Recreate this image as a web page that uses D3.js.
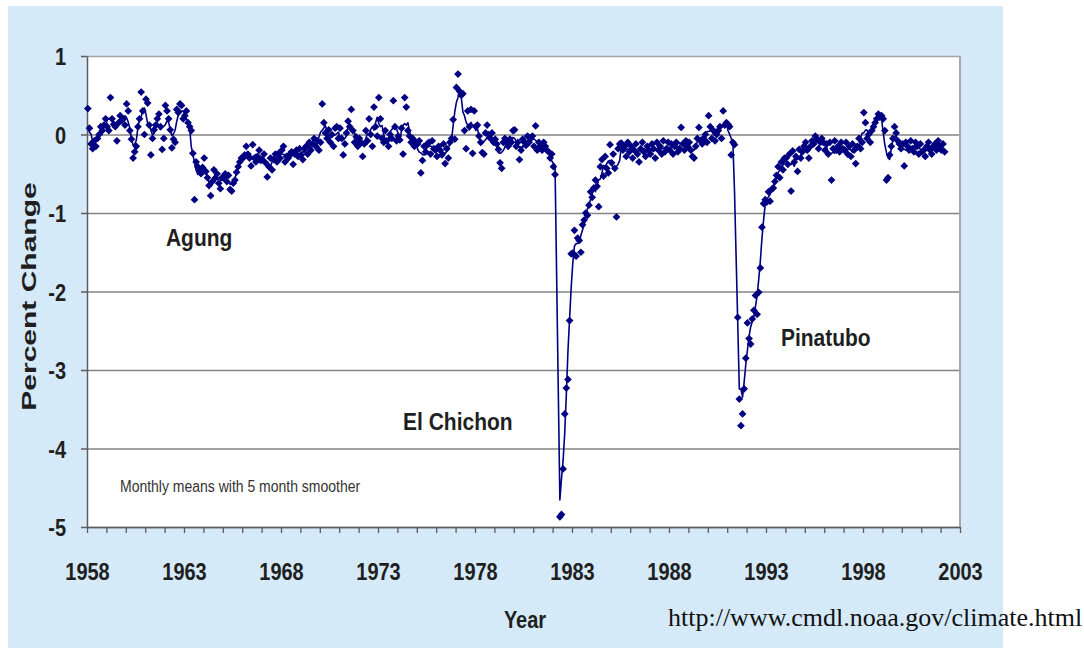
<!DOCTYPE html>
<html>
<head>
<meta charset="utf-8">
<script src="https://cdn.jsdelivr.net/npm/d3@7"></script>
<style>
  html, body { margin: 0; padding: 0; background: #ffffff; }
  svg { display: block; }
</style>
</head>
<body>
<svg id="chart" width="1084" height="648"></svg>
<script>
// Monthly means of atmospheric transmission (percent change), one row per year from Jan 1958.
const startYear = 1958;
const monthlyMeans = [
  /*1958*/ 0.33, 0.08, -0.12, -0.18, -0.08, -0.15, -0.05, 0.0, 0.1, 0.05, 0.12, 0.2,
  /*1959*/ 0.1, 0.05, 0.47, 0.2, 0.13, 0.1, -0.08, 0.15, 0.24, 0.18, 0.2, 0.12,
  /*1960*/ 0.39, 0.3, 0.05, -0.06, -0.3, -0.22, -0.15, 0.1, 0.2, 0.54, 0.3, 0.0,
  /*1961*/ 0.45, 0.4, 0.12, -0.26, -0.05, 0.06, 0.12, 0.2, 0.26, 0.1, -0.19, -0.05,
  /*1962*/ 0.37, 0.3, 0.2, 0.06, -0.17, -0.06, -0.1, 0.32, 0.28, 0.39, 0.37, 0.2,
  /*1963*/ 0.24, 0.3, 0.15, 0.1, 0.05, -0.24, -0.83, -0.35, -0.41, -0.45, -0.5, -0.42,
  /*1964*/ -0.3, -0.47, -0.55, -0.65, -0.78, -0.6, -0.45, -0.55, -0.5, -0.62, -0.69, -0.55,
  /*1965*/ -0.55, -0.5, -0.6, -0.52, -0.7, -0.72, -0.62, -0.58, -0.48, -0.41, -0.35, -0.3,
  /*1966*/ -0.3, -0.26, -0.15, -0.25, -0.3, -0.4, -0.13, -0.3, -0.35, -0.28, -0.2, -0.33,
  /*1967*/ -0.32, -0.25, -0.36, -0.54, -0.41, -0.3, -0.45, -0.32, -0.25, -0.35, -0.24, -0.3,
  /*1968*/ -0.2, -0.15, -0.35, -0.28, -0.3, -0.25, -0.22, -0.38, -0.25, -0.2, -0.28, -0.18,
  /*1969*/ -0.26, -0.32, -0.18, -0.15, -0.25, -0.1, -0.2, -0.12, -0.05, -0.15, -0.08, -0.2,
  /*1970*/ -0.1, 0.39, 0.15, 0.02, -0.05, 0.06, -0.1, 0.0, -0.15, 0.08, 0.1, -0.05,
  /*1971*/ 0.08, -0.05, -0.26, -0.12, 0.02, 0.17, 0.1, 0.32, 0.05, -0.1, -0.03, -0.15,
  /*1972*/ -0.05, -0.1, -0.28, -0.12, 0.05, -0.08, 0.2, 0.0, -0.15, 0.35, 0.1, -0.02,
  /*1973*/ 0.47, 0.2, -0.05, -0.1, 0.05, -0.08, -0.15, 0.0, -0.05, 0.43, 0.1, -0.08,
  /*1974*/ -0.02, -0.07, 0.08, -0.25, 0.47, 0.35, 0.05, -0.02, -0.1, -0.05, -0.15, -0.1,
  /*1975*/ -0.12, -0.08, -0.49, -0.33, -0.15, -0.22, -0.12, -0.1, -0.25, -0.08, -0.18, -0.2,
  /*1976*/ -0.28, -0.15, -0.2, -0.26, -0.12, -0.37, -0.18, -0.3, -0.1, -0.05, 0.19, -0.06,
  /*1977*/ 0.6, 0.77, 0.55, 0.5, 0.52, 0.05, -0.18, 0.3, 0.1, 0.32, -0.24, 0.3,
  /*1978*/ 0.1, 0.12, -0.02, -0.1, -0.23, -0.25, 0.02, 0.12, 0.0, -0.05, 0.02, -0.1,
  /*1979*/ -0.06, -0.12, -0.19, -0.36, -0.43, -0.1, -0.05, -0.08, -0.15, -0.06, -0.1, 0.05,
  /*1980*/ 0.06, -0.15, -0.1, -0.32, -0.2, -0.06, -0.1, -0.14, -0.02, -0.1, -0.05, -0.02,
  /*1981*/ -0.15, 0.11, -0.2, -0.1, -0.15, -0.2, -0.1, -0.15, -0.2, -0.22, -0.3, -0.25,
  /*1982*/ -0.41, -0.51, null, null, -4.87, -4.84, -4.26, -3.56, -3.23, -3.12, -2.37, -1.52,
  /*1983*/ -1.51, -1.22, -1.55, -1.32, -1.35, -1.5, -1.15, -1.09, -1.0, -1.03, -0.9, -0.73,
  /*1984*/ -0.8, -0.68, -0.58, -0.66, -0.92, -0.41, -0.32, -0.53, -0.28, -0.43, -0.49, -0.13,
  /*1985*/ -0.36, -0.25, -0.43, -1.05, -0.18, -0.12, -0.11, -0.2, -0.15, -0.28, -0.1, -0.22,
  /*1986*/ -0.15, -0.3, -0.2, -0.12, -0.25, -0.35, -0.18, -0.1, -0.22, -0.28, -0.15, -0.2,
  /*1987*/ -0.25, -0.12, -0.18, -0.3, -0.1, -0.2, -0.15, -0.25, -0.08, -0.22, -0.18, -0.1,
  /*1988*/ -0.2, -0.12, -0.25, -0.15, -0.1, -0.22, -0.18, 0.09, -0.12, -0.2, -0.08, -0.15,
  /*1989*/ -0.1, -0.2, -0.28, -0.3, -0.15, -0.05, 0.09, -0.08, -0.12, -0.05, 0.0, -0.1,
  /*1990*/ 0.24, 0.1, -0.05, 0.05, -0.08, 0.0, 0.05, 0.1, -0.05, 0.3, 0.12, 0.15,
  /*1991*/ 0.13, 0.1, -0.26, -0.1, -0.13, null, -2.33, -3.37, -3.71, -3.56, -3.24, -2.85,
  /*1992*/ -2.4, -2.6, -2.67, -2.35, -2.24, -2.05, -2.29, -2.01, -1.7, -1.18, -0.88, -0.83,
  /*1993*/ -0.86, -0.73, -0.85, -0.7, -0.68, -0.6, -0.52, -0.41, -0.55, -0.35, -0.45, -0.3,
  /*1994*/ -0.3, -0.38, -0.25, -0.72, -0.21, -0.35, -0.28, -0.47, -0.19, -0.3, -0.22, -0.15,
  /*1995*/ -0.1, -0.2, -0.3, -0.15, -0.08, -0.12, -0.02, -0.06, -0.18, -0.1, -0.05, -0.1,
  /*1996*/ -0.2, -0.12, -0.25, -0.1, -0.58, -0.18, -0.08, -0.2, -0.15, -0.22, -0.1, -0.18,
  /*1997*/ -0.2, -0.1, -0.25, -0.15, -0.28, -0.12, -0.2, -0.37, -0.15, -0.05, -0.18, -0.1,
  /*1998*/ 0.28, 0.15, -0.05, 0.0, -0.1, 0.05, 0.1, 0.15, 0.2, 0.26, 0.22, 0.24,
  /*1999*/ 0.2, 0.05, -0.58, -0.55, -0.26, -0.15, -0.05, 0.1, 0.02, -0.08, -0.12, -0.18,
  /*2000*/ -0.12, -0.4, -0.1, -0.15, -0.2, -0.08, -0.18, -0.22, -0.1, -0.15, -0.25, -0.12,
  /*2001*/ -0.22, -0.2, -0.28, -0.15, -0.1, -0.2, -0.25, -0.15, -0.12, -0.2, -0.08, -0.15,
  /*2002*/ -0.2, -0.12, -0.22
];

const yTickValues = [1, 0, -1, -2, -3, -4, -5];
const xLabelYears = [1958, 1963, 1968, 1973, 1978, 1983, 1988, 1993, 1998, 2003];
const eventNames = ["Agung", "El Chichon", "Pinatubo"];
const smootherSpan = 5;
const noteText = "Monthly means with 5 month smoother";
const sourceText = "http://www.cmdl.noaa.gov/climate.html";

const svg = d3.select("#chart");
const sans = "'Liberation Sans', Arial, Helvetica, sans-serif";
const ink = "#1f1f1f";
const navy = "#000080";

// Finely textured light-blue backdrop tile
const defs = svg.append("defs");
const tileRows = [
  "CBLCWBCL",
  "LCBWCLBC",
  "BWCLBCWL",
  "CLBCLWCB",
  "WCLBCBLC",
  "BLCWLCBW",
  "LCBCBLWC",
  "CWLBCWCB"
];
const tileColors = { C: "#cdedfa", L: "#d9e0f6", B: "#d3eaf8", W: "#e2f1fc" };
const weave = defs.append("pattern")
  .attr("id", "weave").attr("width", 8).attr("height", 8)
  .attr("patternUnits", "userSpaceOnUse");
tileRows.forEach((row, r) => row.split("").forEach((ch, c) => {
  weave.append("rect").attr("x", c).attr("y", r).attr("width", 1).attr("height", 1)
    .attr("fill", tileColors[ch]).attr("shape-rendering", "crispEdges");
}));

svg.append("rect").attr("x", 8).attr("y", 6).attr("width", 995).attr("height", 642)
  .attr("fill", "url(#weave)");

const x = d3.scaleLinear().domain([1958, 2003]).range([87, 960]);
const y = d3.scaleLinear().domain([-5, 1]).range([527, 56]);
const plotW = x(2003) - x(1958);

// Plot area
svg.append("rect")
  .attr("x", x(1958)).attr("y", y(1))
  .attr("width", plotW).attr("height", y(-5) - y(1))
  .attr("fill", "#ffffff");

// Horizontal gridlines
svg.append("g")
  .attr("transform", `translate(${x(1958)},0)`)
  .call(d3.axisLeft(y).tickValues(yTickValues).tickSize(-plotW).tickFormat(""))
  .call(g => g.select(".domain").remove())
  .selectAll("line")
  .attr("stroke", d => d === 1 ? "#a4a4a4" : "#858585")
  .attr("stroke-width", 1.6);

// Right border of the plot area
svg.append("line")
  .attr("x1", x(2003)).attr("x2", x(2003))
  .attr("y1", y(1)).attr("y2", y(-5))
  .attr("stroke", "#a8a8a8").attr("stroke-width", 2);

// Y axis
const yAxis = svg.append("g")
  .attr("transform", `translate(${x(1958)},0)`)
  .call(d3.axisLeft(y).tickValues(yTickValues).tickSize(6).tickSizeOuter(0)
    .tickPadding(15).tickFormat(d => String(d)));
yAxis.select(".domain").attr("stroke", "#5c5c5c").attr("stroke-width", 1.5);
yAxis.selectAll(".tick line").attr("stroke", "#5c5c5c").attr("stroke-width", 1.5);
yAxis.selectAll(".tick text")
  .attr("font-family", sans).attr("font-weight", "bold").attr("font-size", 20)
  .attr("fill", ink).attr("dy", "0.36em").attr("transform", "scale(1,1.22)");

// X axis with yearly ticks
const xAxis = svg.append("g")
  .attr("transform", `translate(0,${y(-5)})`)
  .call(d3.axisBottom(x).tickValues(d3.range(1958, 2004)).tickSize(6).tickSizeOuter(0)
    .tickFormat(d => xLabelYears.includes(d) ? String(d) : ""));
xAxis.select(".domain").attr("stroke", "#5c5c5c").attr("stroke-width", 1.5);
xAxis.selectAll(".tick line").attr("stroke", "#5c5c5c").attr("stroke-width", 1.3);
xAxis.selectAll(".tick text")
  .attr("font-family", sans).attr("font-weight", "bold").attr("font-size", 20)
  .attr("fill", ink).attr("dy", 0).attr("y", 53 / 1.24)
  .attr("transform", "scale(1,1.24)");

// Monthly series and its running-mean smoother
const monthly = monthlyMeans
  .map((v, i) => ({ t: startYear + (i + 0.5) / 12, v, i }))
  .filter(d => d.v !== null);

const half = Math.floor(smootherSpan / 2);
const smoothed = monthly.map(d => {
  const win = monthlyMeans.slice(Math.max(0, d.i - half), d.i + half + 1).filter(v => v !== null);
  return { t: d.t, v: d3.mean(win) };
});

svg.append("path")
  .datum(smoothed)
  .attr("fill", "none")
  .attr("stroke", navy)
  .attr("stroke-width", 1.6)
  .attr("stroke-linejoin", "round")
  .attr("d", d3.line().x(d => x(d.t)).y(d => y(d.v)));

const diamond = d3.symbol().type(d3.symbolSquare).size(30);
svg.append("g")
  .selectAll("path")
  .data(monthly)
  .join("path")
  .attr("d", diamond)
  .attr("transform", d => `translate(${x(d.t)},${y(d.v)}) rotate(45)`)
  .attr("fill", navy);

// Axis titles
svg.append("text")
  .attr("transform", `translate(36,${(y(1) + y(-5)) / 2 + 5}) rotate(-90) scale(1.5,1)`)
  .attr("text-anchor", "middle")
  .attr("font-family", sans).attr("font-weight", "bold").attr("font-size", 20)
  .attr("fill", ink)
  .text("Percent Change");

svg.append("text")
  .attr("transform", `translate(525,628) scale(1,1.2)`)
  .attr("text-anchor", "middle")
  .attr("font-family", sans).attr("font-weight", "bold").attr("font-size", 20)
  .attr("fill", ink)
  .text("Year");

// Eruption labels
const eventAnchors = [[1962.07, -1.42], [1974.29, -3.76], [1993.77, -2.69]];
svg.append("g")
  .selectAll("text")
  .data(eventNames)
  .join("text")
  .attr("transform", (d, k) => `translate(${x(eventAnchors[k][0])},${y(eventAnchors[k][1])}) scale(1,1.15)`)
  .attr("font-family", sans).attr("font-weight", "bold").attr("font-size", 21)
  .attr("fill", ink)
  .text(d => d);

// Method note
svg.append("text")
  .attr("transform", `translate(${x(1959.7)},492) scale(1,1.17)`)
  .attr("font-family", sans).attr("font-size", 14)
  .attr("fill", "#333333")
  .text(noteText);

// Source
svg.append("text")
  .attr("x", 668).attr("y", 626)
  .attr("font-family", "'Liberation Serif', 'Times New Roman', serif")
  .attr("font-size", 26)
  .attr("fill", "#111111")
  .text(sourceText);
</script>
</body>
</html>
